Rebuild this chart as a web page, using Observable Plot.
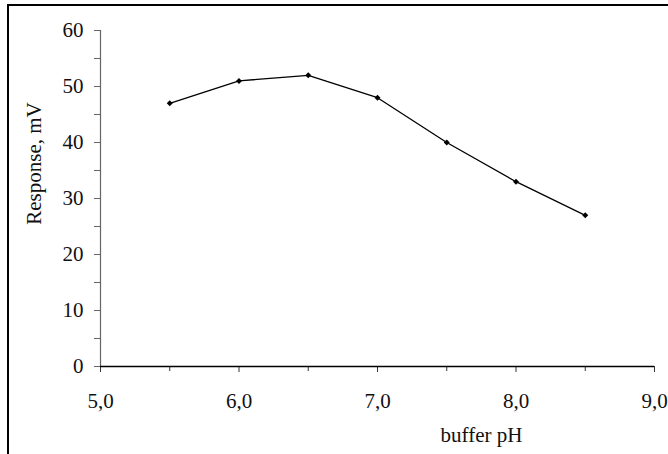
<!DOCTYPE html>
<html>
<head>
<meta charset="utf-8">
<script src="https://cdn.jsdelivr.net/npm/d3@7"></script>
<script src="https://cdn.jsdelivr.net/npm/@observablehq/plot@0.6"></script>
<style>
  html, body { margin: 0; padding: 0; background: #fff; }
  #wrap { position: relative; width: 668px; height: 454px; overflow: hidden; }
  #border { position: absolute; left: 7px; top: 4px; right: -4px; bottom: -4px;
            border-top: 2px solid #000; border-left: 2px solid #000; pointer-events: none; }
</style>
</head>
<body>
<div id="wrap"><div id="border"></div></div>
<script>
const ph = [5.5, 6.0, 6.5, 7.0, 7.5, 8.0, 8.5];
const response = [47, 51, 52, 48, 40, 33, 27];
const xDomain = [5, 9];
const yDomain = [0, 60];
const xTicks = [5, 6, 7, 8, 9];
const xMinor = [5.5, 6.5, 7.5, 8.5];
const yTicks = [0, 10, 20, 30, 40, 50, 60];
const yMinor = [5, 15, 25, 35, 45, 55];
const xLabel = "buffer pH";
const yLabel = "Response, mV";

const data = ph.map((x, i) => ({x, y: response[i]}));
const fmt = d => d.toFixed(1).replace(".", ",");

const chart = Plot.plot({
  width: 668,
  height: 454,
  marginLeft: 100,
  marginRight: 14,
  marginTop: 30,
  marginBottom: 88,
  style: {fontFamily: "'Palatino Linotype','Book Antiqua',Palatino,'Liberation Serif',serif", fontSize: "21px", color: "#111", background: "transparent"},
  x: {domain: xDomain},
  y: {domain: yDomain},
  marks: [
    Plot.axisY({ticks: yTicks, tickSize: 6, tickPadding: 11, stroke: "#666", fill: "#111", label: null}),
    Plot.axisY({ticks: yMinor, tickSize: 6, tickFormat: () => "", stroke: "#666", label: null}),
    Plot.axisX({ticks: xTicks, tickSize: 6, tickPadding: 21, tickFormat: fmt, stroke: "#333", fill: "#111", label: null}),
    Plot.axisX({ticks: xMinor, tickSize: 5, tickFormat: () => "", stroke: "#333", label: null}),
    Plot.ruleX([xDomain[0]], {stroke: "#666", strokeWidth: 1.2}),
    Plot.ruleY([yDomain[0]], {stroke: "#000", strokeWidth: 1.4}),
    Plot.line(data, {x: "x", y: "y", stroke: "#000", strokeWidth: 1.3}),
    Plot.dot(data, {x: "x", y: "y", symbol: "square", rotate: 45, r: 2.4, fill: "#000", stroke: "none"}),
    Plot.text([xLabel], {frameAnchor: "bottom-right", dx: -173, dy: 75, textAnchor: "middle", lineAnchor: "bottom", fill: "#111"}),
    Plot.text([yLabel], {frameAnchor: "left", dx: -60, dy: -35, rotate: -90, textAnchor: "middle", lineAnchor: "bottom", fill: "#111"})
  ]
});
document.getElementById("wrap").prepend(chart);
</script>
</body>
</html>
